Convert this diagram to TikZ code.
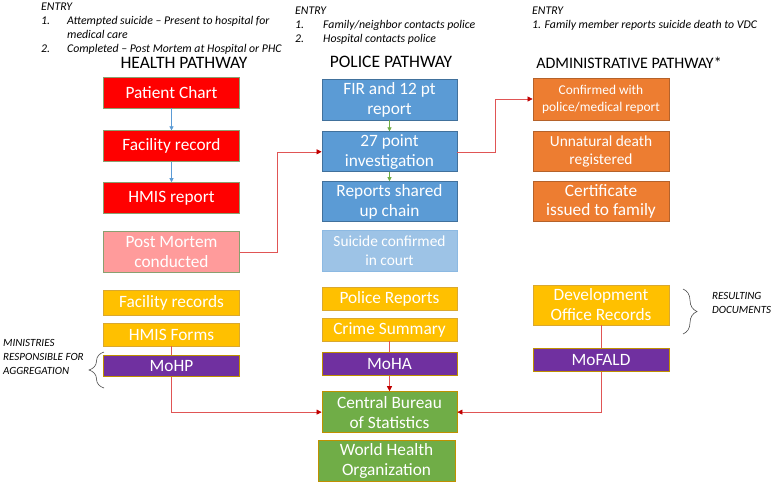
\documentclass[tikz,border=0pt]{standalone}
\usepackage{fontspec}
\setmainfont{Carlito}
\usetikzlibrary{positioning,arrows.meta,decorations.pathreplacing}
\definecolor{hpred}{HTML}{FF0000}
\definecolor{hppink}{HTML}{FF9B9B}
\definecolor{ppblue}{HTML}{5B9BD5}
\definecolor{ppblueline}{HTML}{41719C}
\definecolor{pplight}{HTML}{9DC3E6}
\definecolor{aporange}{HTML}{ED7D31}
\definecolor{aporangeline}{HTML}{B5622A}
\definecolor{docgold}{HTML}{FFC000}
\definecolor{docgoldline}{HTML}{D9A830}
\definecolor{minpurple}{HTML}{7030A0}
\definecolor{cbsgreen}{HTML}{70AD47}
\definecolor{olive}{HTML}{8AA070}
\definecolor{darkgold}{HTML}{BF9000}
\definecolor{linkred}{HTML}{E05555}
\definecolor{arrowred}{HTML}{C00000}
\tikzset{
   box/.style={draw, line width=0.8pt, text=white, align=center, inner sep=1pt,
      minimum width=136pt, font=\fontsize{17.3}{20}\selectfont},
   redbox/.style={box, fill=hpred, draw=olive},
   pinkbox/.style={box, fill=hppink, draw=olive},
   bluebox/.style={box, fill=ppblue, draw=ppblueline},
   lightbox/.style={box, fill=pplight, draw=ppblue!70},
   orangebox/.style={box, fill=aporange, draw=aporangeline},
   goldbox/.style={box, fill=docgold, draw=docgoldline},
   purplebox/.style={box, fill=minpurple, draw=darkgold},
   greenbox/.style={box, fill=cbsgreen, draw=darkgold},
   heading/.style={font=\fontsize{17.5}{20}\selectfont},
   entry/.style={font=\fontsize{11.8}{14}\selectfont\itshape, inner sep=0pt},
   note/.style={font=\fontsize{11}{14}\selectfont\itshape, inner sep=0pt, align=left},
   bluearrow/.style={ppblue, line width=0.6pt, -{Triangle[length=4pt,width=4pt]}},
   greenarrow/.style={cbsgreen, line width=0.6pt, -{Triangle[length=4pt,width=4pt]}},
   redlink/.style={linkred, line width=0.6pt},
   redarrow/.style={redlink, -{Triangle[length=5pt,width=5pt,color=arrowred]}},
   bracket/.style={gray!60!black, line width=0.6pt, decorate, decoration={brace, amplitude=#1}},
}
\begin{document}
\begin{tikzpicture}[x=1pt, y=-1pt]
   \useasboundingbox (0,0) rectangle (775,483);
   % entry notes
   \node[entry, anchor=north west] (hentry) at (41,0) {%
      \begin{tabular}{@{}p{26pt}@{}l@{}}
         \multicolumn{2}{@{}l@{}}{ENTRY}\\
         1. & Attempted suicide -- Present to hospital for\\
            & medical care\\
         2. & Completed -- Post Mortem at Hospital or PHC
      \end{tabular}};
   \node[entry, anchor=north west] (pentry) at (295,4) {%
      \begin{tabular}{@{}p{28pt}@{}l@{}}
         \multicolumn{2}{@{}l@{}}{ENTRY}\\
         1. & Family/neighbor contacts police\\
         2. & Hospital contacts police
      \end{tabular}};
   \node[entry, anchor=north west] (aentry) at (532,4) {%
      \begin{tabular}{@{}l@{}}
         ENTRY\\
         1. Family member reports suicide death to VDC
      \end{tabular}};

   % headings
   \node[heading] (hhead) at (184,63) {HEALTH PATHWAY};
   \node[heading] (phead) at (391,62) {POLICE PATHWAY};
   \node[heading, font=\fontsize{16}{20}\selectfont] (ahead) at (629,63) {ADMINISTRATIVE PATHWAY*};

   % health pathway
   \node[redbox, minimum height=31pt] (chart) at (171.5,92.5) {Patient Chart};
   \node[redbox, minimum height=31pt, below=22pt of chart] (facrec) {Facility record};
   \node[redbox, minimum height=31pt, below=20pt of facrec] (hmisrep) {HMIS report};
   \node[pinkbox, minimum height=41pt, below=17pt of hmisrep] (mortem) {Post Mortem\\conducted};
   \node[goldbox, minimum height=25pt, below=17pt of mortem] (facrecs) {Facility records};
   \node[goldbox, minimum height=23pt, below=7pt of facrecs] (hmisforms) {HMIS Forms};
   \node[purplebox, minimum height=21pt, below=9pt of hmisforms] (mohp) {MoHP};

   % police pathway
   \node[bluebox, minimum width=135pt, minimum height=41pt] (fir) at (389.5,99.5) {FIR and 12 pt\\report};
   \node[bluebox, minimum width=135pt, minimum height=40pt, below=11pt of fir] (invest) {27 point\\investigation};
   \node[bluebox, minimum width=135pt, minimum height=40pt, below=9pt of invest] (shared) {Reports shared\\up chain};
   \node[lightbox, minimum width=135pt, minimum height=41pt, below=8pt of shared,
      font=\fontsize{15.4}{19}\selectfont] (court) {Suicide confirmed\\in court};
   \node[goldbox, minimum width=135pt, minimum height=23pt, below=15pt of court] (polrep) {Police Reports};
   \node[goldbox, minimum width=135pt, minimum height=23pt, below=7pt of polrep] (crime) {Crime Summary};
   \node[purplebox, minimum width=135pt, minimum height=23pt, below=11pt of crime] (moha) {MoHA};
   \node[greenbox, minimum width=135pt, minimum height=41pt, below=15pt of moha] (cbs) {Central Bureau\\of Statistics};
   \node[greenbox, minimum width=137pt, minimum height=41pt] (who) at (386.5,460.5) {World Health\\Organization};

   % administrative pathway
   \node[orangebox, minimum height=42pt, font=\fontsize{13.4}{17}\selectfont] (confirm) at (601,99)
      {Confirmed with\\police/medical report};
   \node[orangebox, minimum height=40pt, below=11pt of confirm, font=\fontsize{15.4}{18}\selectfont] (unnat)
      {Unnatural death\\registered};
   \node[orangebox, minimum height=40pt, below=9pt of unnat, font=\fontsize{17.3}{19}\selectfont] (cert)
      {Certificate\\issued to family};
   \node[goldbox, minimum height=40pt] (devrec) at (601,305) {Development\\Office Records};
   \node[purplebox, minimum height=23pt, below=23pt of devrec] (mofald) {MoFALD};

   % connectors
   \draw[bluearrow] (chart) -- (facrec);
   \draw[bluearrow] (facrec) -- (hmisrep);
   \draw[greenarrow] (fir) -- (invest);
   \draw[greenarrow] (invest) -- (shared);
   \draw[redarrow] (mortem.east) -- ++(37,0) |- (invest.west);
   \draw[redarrow] (invest.east) -- ++(38,0) |- (confirm.west);
   \draw[redlink] (hmisforms) -- (mohp);
   \draw[redarrow] (mohp.south) |- (cbs.west);
   \draw[redlink] (crime) -- (moha);
   \draw[redarrow] (moha) -- (cbs);
   \draw[redlink] (devrec) -- (mofald);
   \draw[redarrow] (mofald.south) |- (cbs.east);

   % brackets
   \coordinate (mintop) at (104,352);
   \coordinate (minbot) at (104,388);
   \draw[bracket=15pt] (minbot) -- (mintop);
   \node[note, anchor=west] (minnote) at (3,357) {MINISTRIES\\RESPONSIBLE FOR\\AGGREGATION};
   \coordinate (doctop) at (683,289);
   \coordinate (docbot) at (683,334);
   \draw[bracket=14pt] (doctop) -- (docbot);
   \node[note, anchor=west] (docnote) at (712,302.5) {RESULTING\\DOCUMENTS};
\end{tikzpicture}
\end{document}
